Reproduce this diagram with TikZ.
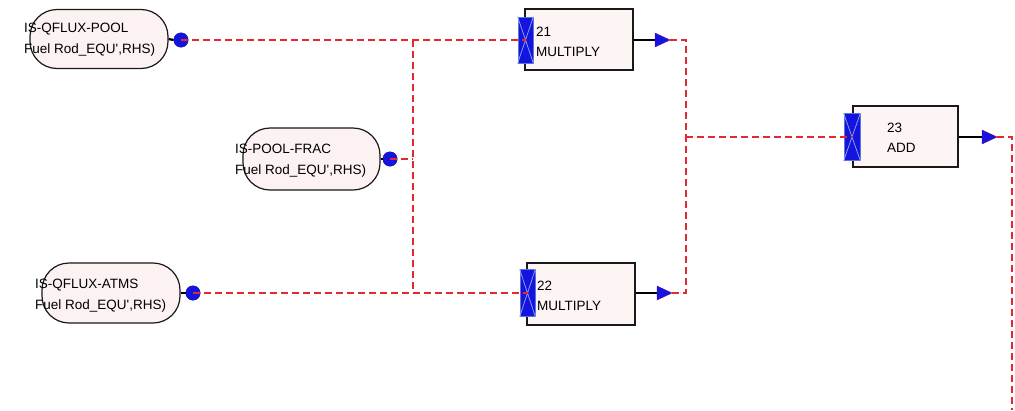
\documentclass[tikz,border=0pt]{standalone}
\usepackage{fontspec}
\setmainfont{Liberation Sans}[Ligatures=TeXOff]
\definecolor{boxfill}{RGB}{253,244,244}
\definecolor{pillfill}{RGB}{252,242,242}
\definecolor{wirered}{RGB}{228,40,50}
\definecolor{portblue}{RGB}{20,20,225}
\definecolor{portedge}{RGB}{90,120,210}
\definecolor{xblue}{RGB}{150,170,235}
\begin{document}
\begin{tikzpicture}[x=1pt,y=-1pt,
  txt/.style={font=\fontsize{13.5}{21}\selectfont, align=left, inner sep=0pt, anchor=west},
  pill/.style={draw=black!90, line width=1.2pt, fill=pillfill, rounded corners=27pt, inner sep=0pt},
  blk/.style={draw=black!90, line width=1.2pt, fill=boxfill, inner sep=0pt},
  bar/.style={draw=portedge, line width=0.8pt, fill=portblue, inner sep=0pt, minimum width=15pt, minimum height=46pt},
  xl/.style={draw=xblue, line width=0.7pt},
  dot/.style={circle, fill=portblue, draw=portblue!70!black, line width=0.4pt, inner sep=0pt, minimum size=14.5pt},
  stub/.style={draw=black, line width=2.2pt},
  wire/.style={draw=wirered, line width=1.1pt, dash pattern=on 7pt off 4pt},
  tip/.style={fill=portblue, draw=portblue!60!red, line width=0.4pt}
]
\useasboundingbox (0,0) rectangle (1015,410);

% ---- parameter nodes (pills)
\node[pill, minimum width=138pt, minimum height=59pt] (p1) at (99,39) {};
\node[pill, minimum width=137pt, minimum height=62pt] (p2) at (311.5,159) {};
\node[pill, minimum width=138pt, minimum height=60pt] (p3) at (111,293) {};
\node[txt] (t1) at (24,40) {IS-QFLUX-POOL\\Fuel Rod\_EQU',RHS)};
\node[txt] (t2) at (235,161) {IS-POOL-FRAC\\Fuel Rod\_EQU',RHS)};
\node[txt] (t3) at (35,296) {IS-QFLUX-ATMS\\Fuel Rod\_EQU',RHS)};

% ---- output dots of the pills
\node[dot] (c1) at (181,40) {};
\node[dot] (c2) at (390,159) {};
\node[dot] (c3) at (193,293) {};
\draw[stub] (p1.east) -- (c1.west);
\draw[stub] (p2.east) -- (c2.west);
\draw[stub] (p3.east) -- (c3.west);

% ---- operation blocks
\node[blk, minimum width=108pt, minimum height=61pt] (b21) at (579,39.5) {};
\node[blk, minimum width=108pt, minimum height=62pt] (b22) at (581,294) {};
\node[blk, minimum width=105pt, minimum height=61pt] (b23) at (905.5,136.5) {};
\node[txt, font=\fontsize{13.5}{20}\selectfont] (l21) at (536,42) {21\\MULTIPLY};
\node[txt, font=\fontsize{13.5}{20}\selectfont] (l22) at (537,296) {22\\MULTIPLY};
\node[txt, font=\fontsize{13.5}{20}\selectfont] (l23) at (887,138) {23\\ADD};

% ---- input bars
\node[bar] (i21) at (525.5,40) {};
\node[bar, minimum height=47pt] (i22) at (527.5,293) {};
\node[bar, minimum width=16pt, minimum height=47pt] (i23) at (852,137) {};
\foreach \i in {i21,i22,i23}{
  \draw[xl] (\i.north west) -- (\i.south east) (\i.north east) -- (\i.south west);
}

% ---- output stubs and arrow heads
\coordinate (o21) at (655,40);
\coordinate (o22) at (657,293);
\coordinate (o23) at (982,137);
\draw[stub] (b21.east |- o21) -- (o21);
\draw[stub] (b22.east |- o22) -- (o22);
\draw[stub] (b23.east |- o23) -- (o23);
\foreach \o/\t in {o21/a21,o22/a22,o23/a23}{
  \filldraw[tip] (\o) ++(0,-7) -- ++(15,7) coordinate (\t) -- ++(-15,7) -- cycle;
}

% ---- wires
\coordinate (jl) at (413,159);
\coordinate (jm) at (686,137);
\coordinate (out) at (1012,410);
\draw[wire] (c1.center) -- (i21.center);
\draw[wire] (c3.center) -- (i22.center);
\draw[wire] (jl |- c1) -- (jl |- c3);
\draw[wire] (c2.center) -- (jl);
\draw[wire] (a21) -| (jm);
\draw[wire] (a22) -| (jm);
\draw[wire] (jm) -- (i23.center);
\draw[wire] (a23) -| (out);

% ---- small junction marks
\foreach \p in {i21.center,i22.center,i23.center}{
  \fill[wirered] (\p) circle (1.4pt);
}
\end{tikzpicture}
\end{document}
